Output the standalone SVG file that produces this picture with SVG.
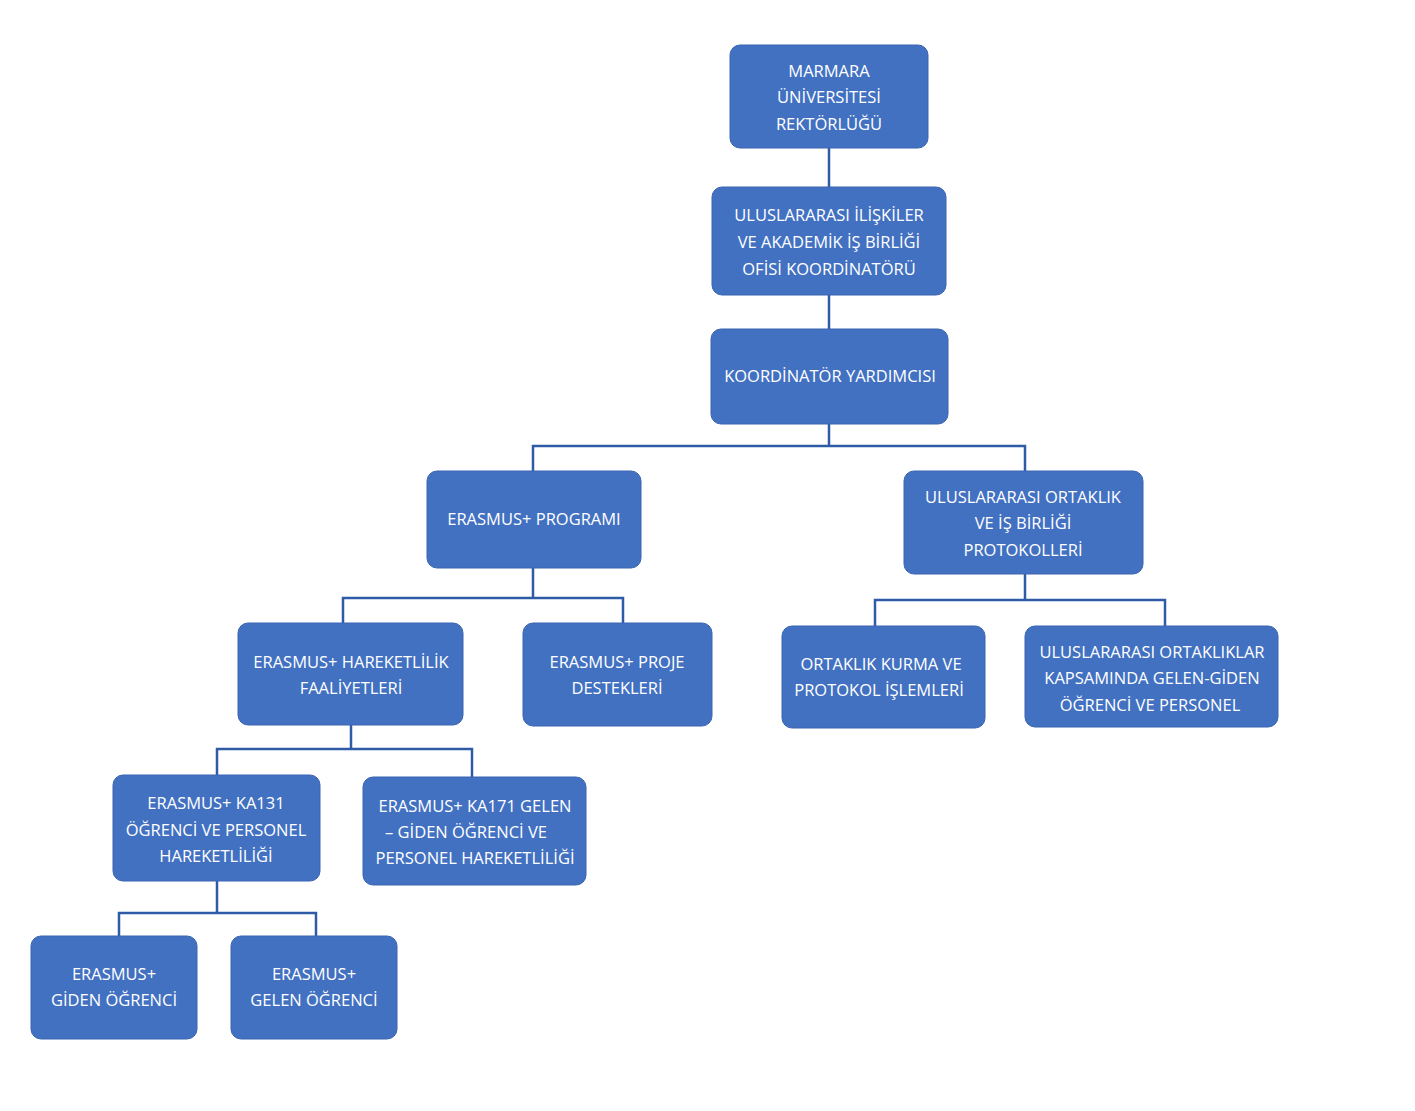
<svg xmlns="http://www.w3.org/2000/svg" width="1415" height="1111" viewBox="0 0 1415 1111">
<style>
.n rect{fill:#4271C2;stroke:#3A65B0;stroke-width:1}
.n text{fill:#fff;font-family:"Open Sans","DejaVu Sans",sans-serif;font-size:16.5px;text-anchor:middle}
#edges path{fill:none;stroke:#2F5BA6;stroke-width:2.5}
</style>
<rect width="1415" height="1111" fill="#fff"/>
<g id="edges">
<path d="M829 148V187M829 295V329M829 424V446M533 471V446H1025V471M533 568V598M343 623V598H623V623M1025 574V600M875 626V600H1165V626M351 725V749M217 775V749H472V777M217 881V913M119 936V913H316V936"/>
</g>
<g id="n1" class="n"><rect x="730" y="45" width="198" height="103" rx="10"/><text x="829" y="77">MARMARA</text><text x="829" y="103">ÜNİVERSİTESİ</text><text x="829" y="130">REKTÖRLÜĞÜ</text></g>
<g id="n2" class="n"><rect x="712" y="187" width="234" height="108" rx="10"/><text x="829" y="221">ULUSLARARASI İLİŞKİLER</text><text x="829" y="248">VE AKADEMİK İŞ BİRLİĞİ</text><text x="829" y="275">OFİSİ KOORDİNATÖRÜ</text></g>
<g id="n3" class="n"><rect x="711" y="329" width="237" height="95" rx="10"/><text x="830" y="382">KOORDİNATÖR YARDIMCISI</text></g>
<g id="n4" class="n"><rect x="427" y="471" width="214" height="97" rx="10"/><text x="534" y="525">ERASMUS+ PROGRAMI</text></g>
<g id="n5" class="n"><rect x="904" y="471" width="239" height="103" rx="10"/><text x="1023" y="503">ULUSLARARASI ORTAKLIK</text><text x="1023" y="529">VE İŞ BİRLİĞİ</text><text x="1023" y="556">PROTOKOLLERİ</text></g>
<g id="n6" class="n"><rect x="238" y="623" width="225" height="102" rx="10"/><text x="351" y="668">ERASMUS+ HAREKETLİLİK</text><text x="351" y="694">FAALİYETLERİ</text></g>
<g id="n7" class="n"><rect x="523" y="623" width="189" height="103" rx="10"/><text x="617" y="668">ERASMUS+ PROJE</text><text x="617" y="694">DESTEKLERİ</text></g>
<g id="n8" class="n"><rect x="782" y="626" width="203" height="102" rx="10"/><text x="881" y="670">ORTAKLIK KURMA VE</text><text x="879" y="696">PROTOKOL İŞLEMLERİ</text></g>
<g id="n9" class="n"><rect x="1025" y="626" width="253" height="101" rx="10"/><text x="1152" y="658">ULUSLARARASI ORTAKLIKLAR</text><text x="1152" y="684">KAPSAMINDA GELEN-GİDEN</text><text x="1150" y="711">ÖĞRENCİ VE PERSONEL</text></g>
<g id="n10" class="n"><rect x="113" y="775" width="207" height="106" rx="10"/><text x="216" y="809">ERASMUS+ KA131</text><text x="216" y="836">ÖĞRENCİ VE PERSONEL</text><text x="216" y="862">HAREKETLİLİĞİ</text></g>
<g id="n11" class="n"><rect x="363" y="777" width="223" height="108" rx="10"/><text x="475" y="812">ERASMUS+ KA171 GELEN</text><text x="466" y="838">– GİDEN ÖĞRENCİ VE</text><text x="475" y="864">PERSONEL HAREKETLİLİĞİ</text></g>
<g id="n12" class="n"><rect x="31" y="936" width="166" height="103" rx="10"/><text x="114" y="980">ERASMUS+</text><text x="114" y="1006">GİDEN ÖĞRENCİ</text></g>
<g id="n13" class="n"><rect x="231" y="936" width="166" height="103" rx="10"/><text x="314" y="980">ERASMUS+</text><text x="314" y="1006">GELEN ÖĞRENCİ</text></g>
</svg>
